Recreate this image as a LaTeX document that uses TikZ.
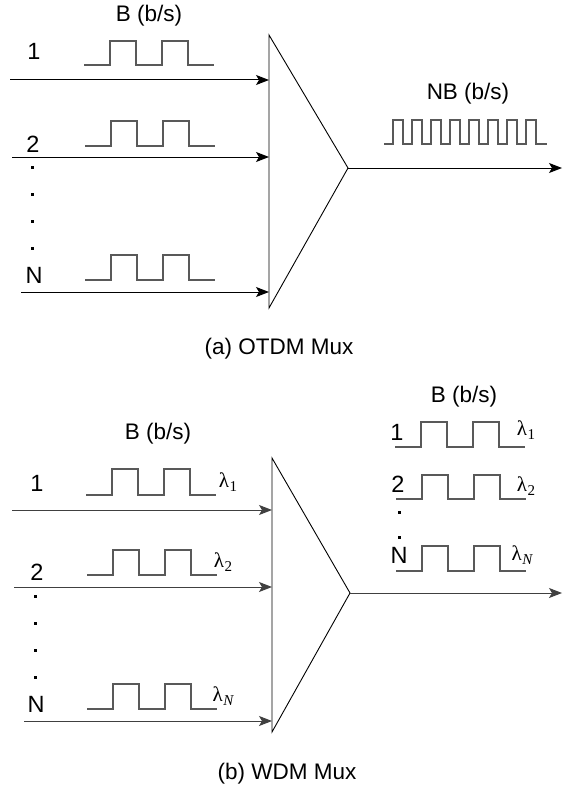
\documentclass[tikz,border=0pt]{standalone}
\usepackage{fontspec}
\setmainfont{Liberation Sans}
\newfontfamily\lamfont{Liberation Serif}
\usetikzlibrary{arrows.meta}
\newcommand\sqpulse[4][pulse]{\draw[#1] (#2,#3) -- ++(26,0) -- ++(0,-#4) -- ++(26,0) -- ++(0,#4) -- ++(26,0) -- ++(0,-#4) -- ++(26,0) -- ++(0,#4) -- ++(26,0);}
\newcommand\lamsub[1]{λ\kern0.5pt\raisebox{-4pt}{\fontsize{15}{17}\selectfont #1}}
\tikzset{
  txt/.style={inner sep=0pt, font=\fontsize{22.5}{26}\selectfont},
  lbl/.style={inner sep=0pt, font=\fontsize{23.5}{27}\selectfont},
  lam/.style={inner sep=0pt, font=\lamfont\fontsize{21}{25}\selectfont},
  arr/.style={draw=black, line width=1pt, -{Stealth[length=13pt,width=10pt,inset=3pt]}},
  arrb/.style={arr, draw=black!75},
  pulse/.style={draw=black!65, line width=1.2pt},
  mux/.style={draw=black, line width=0.9pt},
  dotm/.style={fill=black, draw=none},
}
\begin{document}
\begin{tikzpicture}[x=1pt,y=-1pt]
\useasboundingbox (0,0) rectangle (562,789);
% ---------- (a) OTDM ----------
\coordinate (aT) at (269,35);
\coordinate (aB) at (269,308);
\coordinate (aA) at (348,168);
\draw[mux] (aT) -- (aB) -- (aA) -- cycle;
\coordinate (a1s) at (10,80);   \coordinate (a1e) at (269,80);
\coordinate (a2s) at (12,157);  \coordinate (a2e) at (269,157);
\coordinate (aNs) at (21,292);  \coordinate (aNe) at (269,292);
\coordinate (aOut) at (562,168);
\draw[arr] (a1s) -- (a1e);
\draw[arr] (a2s) -- (a2e);
\draw[arr] (aNs) -- (aNe);
\draw[arr] (aA) -- (aOut);
\node[txt] (aB1) at (149,16) {B (b/s)};
\node[lbl] (al1) at (34,51) {1};
\node[lbl] (al2) at (33,144) {2};
\node[lbl] (alN) at (34,275) {N};
\foreach \yy in {166,193,220,247} \fill[dotm] (31,\yy) rectangle ++(2.6,2.6);
\sqpulse{84}{65}{24}
\sqpulse{85}{146}{25}
\sqpulse{85}{280}{25}
\node[txt] (aNB) at (468,94) {NB (b/s)};
\draw[pulse] (384,144) -- (393,144)
  \foreach \k in {0,...,7} { -- ({393+19*\k},120) -- ({403+19*\k},120) -- ({403+19*\k},144) -- ({412+19*\k},144) }
  -- (547,144);
\node[txt] (capa) at (279,349) {(a) OTDM Mux};
% ---------- (b) WDM ----------
\coordinate (bT) at (272,458);
\coordinate (bB) at (272,732);
\coordinate (bA) at (350,593);
\draw[mux] (bT) -- (bB) -- (bA) -- cycle;
\coordinate (b1s) at (12,510);  \coordinate (b1e) at (272,510);
\coordinate (b2s) at (14,587);  \coordinate (b2e) at (272,587);
\coordinate (bNs) at (24,721);  \coordinate (bNe) at (272,721);
\coordinate (bOut) at (562,593);
\draw[arrb] (b1s) -- (b1e);
\draw[arrb] (b2s) -- (b2e);
\draw[arrb] (bNs) -- (bNe);
\draw[arrb] (bA) -- (bOut);
\node[txt] (bB1) at (158,434) {B (b/s)};
\node[lbl] (bl1) at (37,483) {1};
\node[lbl] (bl2) at (37,572) {2};
\node[lbl] (blN) at (36,704) {N};
\foreach \yy in {595,622,649,676} \fill[dotm] (34,\yy) rectangle ++(2.6,2.6);
\sqpulse{86}{495}{26}
\sqpulse{87}{575}{25}
\sqpulse{87}{709}{25}
\node[lam] (bL1) at (228,482) {\lamsub{1}};
\node[lam] (bL2) at (223,562) {\lamsub{2}};
\node[lam] (bLN) at (223,696) {\lamsub{\itshape N}};
% right side
\node[txt] (bB2) at (464,397) {B (b/s)};
\node[lbl] (br1) at (397,432) {1};
\node[lbl] (br2) at (398,484) {2};
\node[lbl] (brN) at (399,555) {N};
\foreach \yy in {511,536} \fill[dotm] (398,\yy) rectangle ++(2.6,2.6);
\sqpulse{395}{447}{25}
\sqpulse{396}{499}{24}
\sqpulse{396}{571}{25}
\node[lam] (bR1) at (526,430) {\lamsub{1}};
\node[lam] (bR2) at (526,486) {\lamsub{2}};
\node[lam] (bRN) at (522,555) {\lamsub{\itshape N}};
\node[txt] (capb) at (287,774) {(b) WDM Mux};
\end{tikzpicture}
\end{document}
